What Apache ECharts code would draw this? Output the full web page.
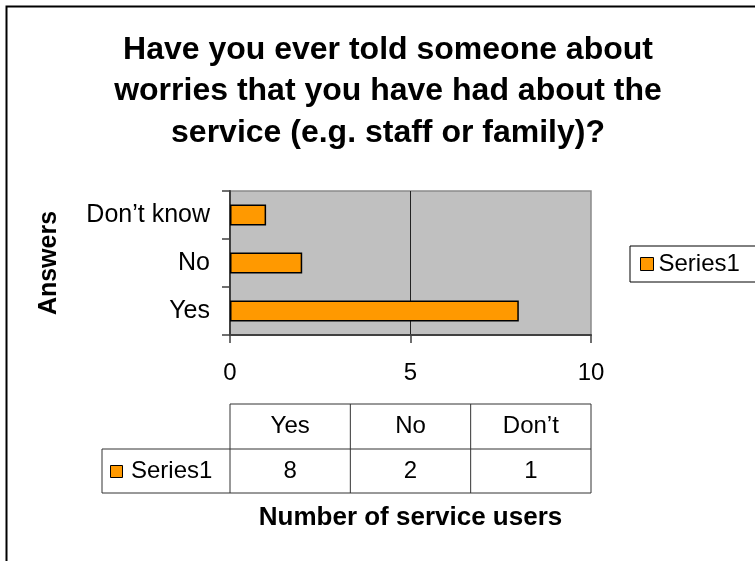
<!DOCTYPE html>
<html>
<head>
<meta charset="utf-8">
<script src="https://cdn.jsdelivr.net/npm/echarts@6/dist/echarts.min.js"></script>
<style>
  html, body { margin: 0; padding: 0; background: #fff; }
  #chart { width: 755px; height: 561px; }
</style>
</head>
<body>
<div id="chart"></div>
<script>
// Survey answers and counts
const categories = ['Yes', 'No', 'Don\u2019t know'];
const values = [8, 2, 1];
const tableHeads = ['Yes', 'No', 'Don\u2019t'];
const seriesName = 'Series1';
const xMin = 0, xMax = 10, xStep = 5;

const titleText = 'Have you ever told someone about\nworries that you have had about the\nservice (e.g. staff or family)?';

const FONT = '"Liberation Sans", Arial, sans-serif';
const ORANGE = '#FF9900';

// Plot area placement
const G = { left: 230, top: 191, width: 361, height: 144 };

// Data table under the plot: one column per category, aligned with the plot width
function tableGraphics() {
  const els = [];
  const colW = G.width / categories.length;
  const top = 404, mid = 449, bottom = 493, rowLeft = 102;
  const line = (x1, y1, x2, y2) => ({
    type: 'line', silent: true,
    shape: { x1, y1, x2, y2 },
    style: { stroke: '#333', lineWidth: 1 }
  });
  els.push(line(G.left, top, G.left + G.width, top));
  els.push(line(rowLeft, mid, G.left + G.width, mid));
  els.push(line(rowLeft, bottom, G.left + G.width, bottom));
  els.push(line(rowLeft, mid, rowLeft, bottom));
  for (let i = 0; i <= categories.length; i++) {
    const x = G.left + colW * i;
    els.push(line(x, top, x, bottom));
  }
  for (let i = 0; i < categories.length; i++) {
    const cx = G.left + colW * (i + 0.5);
    els.push({
      type: 'text', silent: true, x: cx, y: (top + mid) / 2,
      style: { text: tableHeads[i], font: '24px ' + FONT, fill: '#000', align: 'center', verticalAlign: 'middle' }
    });
    els.push({
      type: 'text', silent: true, x: cx, y: (mid + bottom) / 2,
      style: { text: String(values[i]), font: '24px ' + FONT, fill: '#000', align: 'center', verticalAlign: 'middle' }
    });
  }
  // legend key in the row header
  els.push({
    type: 'rect', silent: true,
    shape: { x: 110.5, y: 465.5, width: 12, height: 12 },
    style: { fill: ORANGE, stroke: '#000', lineWidth: 1 }
  });
  els.push({
    type: 'text', silent: true, x: 131, y: (mid + bottom) / 2,
    style: { text: seriesName, font: '24px ' + FONT, fill: '#000', align: 'left', verticalAlign: 'middle' }
  });
  return els;
}

const chart = echarts.init(document.getElementById('chart'), null, { renderer: 'canvas' });

chart.setOption({
  animation: false,
  backgroundColor: '#fff',
  textStyle: { fontFamily: FONT },
  title: {
    text: titleText,
    left: 388,
    top: 29,
    padding: 0,
    textAlign: 'center',
    textStyle: {
      fontFamily: FONT, fontSize: 32, fontWeight: 'bold', color: '#000', lineHeight: 41.5
    }
  },
  legend: {
    data: [seriesName],
    left: 630,
    top: 246,
    orient: 'vertical',
    padding: [6, 16, 6, 10],
    borderColor: '#000',
    borderWidth: 1,
    itemWidth: 13,
    itemHeight: 13,
    icon: 'rect',
    itemStyle: { borderColor: '#000', borderWidth: 1 },
    textStyle: { fontFamily: FONT, fontSize: 24, color: '#000' }
  },
  grid: {
    left: G.left, top: G.top, width: G.width, height: G.height,
    show: true,
    backgroundColor: '#C0C0C0',
    borderColor: '#8a8a8a',
    borderWidth: 1.5,
    containLabel: false
  },
  xAxis: {
    type: 'value',
    min: xMin, max: xMax, interval: xStep,
    name: 'Number of service users',
    nameLocation: 'middle',
    nameGap: 170,
    nameTextStyle: { fontFamily: FONT, fontSize: 26, fontWeight: 'bold', color: '#000' },
    axisLine: { show: true, lineStyle: { color: '#404040', width: 2 } },
    axisTick: { show: true, length: 8, lineStyle: { color: '#404040', width: 1.5 } },
    axisLabel: { margin: 26, fontFamily: FONT, fontSize: 24, color: '#000' },
    splitLine: {
      show: true, showMinLine: false, showMaxLine: false,
      lineStyle: { color: '#222', width: 1 }
    }
  },
  yAxis: {
    type: 'category',
    data: categories,
    name: 'Answers',
    nameLocation: 'middle',
    nameRotate: 90,
    nameGap: 168,
    nameMoveOverlap: false,
    nameTextStyle: { fontFamily: FONT, fontSize: 25, fontWeight: 'bold', color: '#000' },
    axisLine: { show: true, lineStyle: { color: '#404040', width: 2 } },
    axisTick: { show: true, length: 8, alignWithLabel: false, lineStyle: { color: '#404040', width: 1.5 } },
    axisLabel: { margin: 20, fontFamily: FONT, fontSize: 25, color: '#000' },
    splitLine: { show: false }
  },
  series: [{
    name: seriesName,
    type: 'bar',
    data: values,
    barWidth: 21,
    itemStyle: { color: ORANGE, borderColor: '#000', borderWidth: 1.5 }
  }],
  graphic: [
    {
      type: 'rect', silent: true, z: 100,
      shape: { x: 6.5, y: 6.5, width: 800, height: 600 },
      style: { fill: 'none', stroke: '#000', lineWidth: 2 }
    }
  ].concat(tableGraphics())
});
</script>
</body>
</html>
